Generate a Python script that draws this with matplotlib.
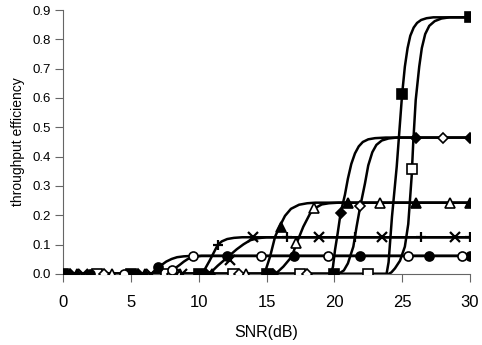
import matplotlib
matplotlib.use("Agg")
import matplotlib.pyplot as plt

plt.rcParams['font.family'] = ['Liberation Sans', 'DejaVu Sans']

# smoothed curves (SNR dB, throughput)
c1a_x = [0, 6.5, 6.8, 7.1, 7.6, 8.0, 8.4, 8.9, 9.5, 30]
c1a_y = [0, 0, 0.009, 0.025, 0.042, 0.051, 0.057, 0.060, 0.0615, 0.0615]
c1b_x = [0, 7.4, 7.8, 8.1, 8.6, 8.9, 9.2, 9.6, 10.2, 30]
c1b_y = [0, 0, 0.006, 0.014, 0.031, 0.042, 0.051, 0.058, 0.0615, 0.0615]
c2a_x = [0, 10.1, 10.4, 10.8, 11.1, 11.4, 11.7, 12.1, 12.6, 13.2, 30]
c2a_y = [0, 0, 0.012, 0.045, 0.072, 0.099, 0.111, 0.119, 0.123, 0.125, 0.125]
c2b_x = [0, 10.6, 11.0, 11.4, 11.9, 12.3, 12.8, 13.3, 13.8, 14.4, 15.0, 30]
c2b_y = [0, 0, 0.01, 0.028, 0.048, 0.064, 0.084, 0.101, 0.115, 0.122, 0.125, 0.125]
c3a_x = [0, 14.7, 14.9, 15.26, 15.63, 16.0, 16.36, 16.8, 17.4, 18.0, 18.6, 30]
c3a_y = [0, 0, 0.008, 0.059, 0.127, 0.165, 0.198, 0.222, 0.236, 0.241, 0.243, 0.243]
c3b_x = [0, 15.4, 15.8, 16.24, 16.86, 17.22, 17.71, 18.2, 18.57, 19.07, 19.6, 20.3, 30]
c3b_y = [0, 0, 0.006, 0.025, 0.059, 0.105, 0.161, 0.205, 0.224, 0.237, 0.241, 0.243, 0.243]
c4a_x = [0, 19.75, 19.9, 20.05, 20.25, 20.46, 20.78, 21.0, 21.25, 21.52, 21.8, 22.1, 22.5, 23.0, 23.8, 30]
c4a_y = [0, 0, 0.025, 0.082, 0.14, 0.207, 0.27, 0.325, 0.375, 0.411, 0.435, 0.450, 0.459, 0.463, 0.465, 0.465]
c4b_x = [0, 20.3, 20.7, 21.0, 21.4, 21.64, 21.9, 22.26, 22.5, 22.8, 23.1, 23.5, 24.0, 24.6, 30]
c4b_y = [0, 0, 0.012, 0.036, 0.093, 0.161, 0.228, 0.309, 0.37, 0.415, 0.440, 0.455, 0.462, 0.465, 0.465]
c5a_x = [0, 23.85, 24.0, 24.25, 24.6, 25.0, 25.2, 25.4, 25.6, 25.85, 26.1, 26.4, 26.8, 27.3, 30]
c5a_y = [0, 0, 0.04, 0.195, 0.366, 0.614, 0.707, 0.770, 0.812, 0.840, 0.856, 0.866, 0.872, 0.875, 0.875]
c5b_x = [0, 24.0, 24.2, 24.47, 24.84, 25.2, 25.45, 25.7, 25.82, 26.0, 26.26, 26.45, 26.7, 27.0, 27.4, 27.9, 28.5, 30]
c5b_y = [0, 0, 0.005, 0.019, 0.045, 0.093, 0.17, 0.332, 0.45, 0.593, 0.707, 0.770, 0.818, 0.846, 0.862, 0.871, 0.875, 0.875]

# marker points
sqf_x = [0, 5, 10, 15, 20, 25, 30]
sqf_y = [0, 0, 0, 0, 0, 0.614, 0.875]
sqo_x = [2.5, 7.6, 12.5, 17.5, 22.5, 25.75]
sqo_y = [0, 0, 0, 0, 0, 0.358]
dmf_x = [0.5, 5.5, 10.5, 15.5, 20.46, 26.0, 30]
dmf_y = [0, 0, 0, 0, 0.207, 0.465, 0.465]
dmo_x = [3.0, 8.0, 13.0, 18.0, 21.9, 28.0]
dmo_y = [0, 0, 0, 0, 0.232, 0.465]
trf_x = [1.0, 6.0, 11.0, 16.07, 21.0, 26.0, 30]
trf_y = [0, 0, 0, 0.161, 0.243, 0.243, 0.243]
tro_x = [3.6, 8.6, 13.5, 17.2, 18.5, 23.4, 28.5]
tro_y = [0, 0, 0, 0.105, 0.224, 0.243, 0.243]
cif_x = [2.0, 7.0, 12.1, 17.0, 21.9, 27.0, 30]
cif_y = [0, 0.025, 0.0615, 0.0615, 0.0615, 0.0615, 0.0615]
cio_x = [4.5, 8.06, 9.56, 14.6, 19.5, 25.4, 29.4]
cio_y = [0, 0.014, 0.0615, 0.0615, 0.0615, 0.0615, 0.0615]
xx_x = [1.5, 6.5, 8.8, 12.3, 14.0, 18.9, 23.5, 28.9]
xx_y = [0, 0, 0, 0.048, 0.125, 0.125, 0.125, 0.125]
pl_x = [11.4, 16.5, 21.5, 26.4, 30]
pl_y = [0.1, 0.125, 0.125, 0.125, 0.125]

fig = plt.figure(figsize=(4.82, 3.45), dpi=100)
ax = fig.add_axes([0.131, 0.206, 0.844, 0.765])

curves = [(c1a_x, c1a_y), (c1b_x, c1b_y), (c2a_x, c2a_y), (c2b_x, c2b_y),
          (c3a_x, c3a_y), (c3b_x, c3b_y), (c4a_x, c4a_y), (c4b_x, c4b_y),
          (c5a_x, c5a_y), (c5b_x, c5b_y)]
for cx, cy in curves:
    ax.plot(cx, cy, color='black', lw=1.8, solid_joinstyle='round', zorder=2)

marks = [(sqf_x, sqf_y, 's', 'black'), (sqo_x, sqo_y, 's', 'white'),
         (dmf_x, dmf_y, 'D', 'black'), (dmo_x, dmo_y, 'D', 'white'),
         (trf_x, trf_y, '^', 'black'), (tro_x, tro_y, '^', 'white'),
         (cif_x, cif_y, 'o', 'black'), (cio_x, cio_y, 'o', 'white')]
for mx, my, m, fc in marks:
    ms = 5 if m == 'D' else 6.5
    ax.plot(mx, my, ls='none', marker=m, ms=ms, mfc=fc, mec='black', mew=1.2, zorder=3)
ax.plot(xx_x, xx_y, ls='none', marker='x', ms=7, mec='black', mew=1.6, zorder=3)
ax.plot(pl_x, pl_y, ls='none', marker='+', ms=7.5, mec='black', mew=1.6, zorder=3)

ax.set_xlim(0, 30)
ax.set_ylim(0, 0.9)
ax.set_xticks([0, 5, 10, 15, 20, 25, 30])
ax.set_yticks([0.0, 0.1, 0.2, 0.3, 0.4, 0.5, 0.6, 0.7, 0.8, 0.9])
ax.set_yticklabels(['0.0', '0.1', '0.2', '0.3', '0.4', '0.5', '0.6', '0.7', '0.8', '0.9'])
for s in ['top', 'right']:
    ax.spines[s].set_visible(False)
for s in ['left', 'bottom']:
    ax.spines[s].set_color('#666666')
    ax.spines[s].set_linewidth(0.8)
ax.tick_params(axis='x', direction='out', length=6, width=0.8, color='#666666', labelsize=12, pad=9)
ax.tick_params(axis='y', direction='out', length=6, width=0.8, color='#666666', labelsize=9.5, pad=3)
ax.set_xlabel('SNR(dB)', fontsize=11.5, labelpad=11)
ax.set_ylabel('throughput efficiency', fontsize=10, labelpad=5)
ax.patch.set_visible(False)

fig.savefig('out.png', dpi=100)
